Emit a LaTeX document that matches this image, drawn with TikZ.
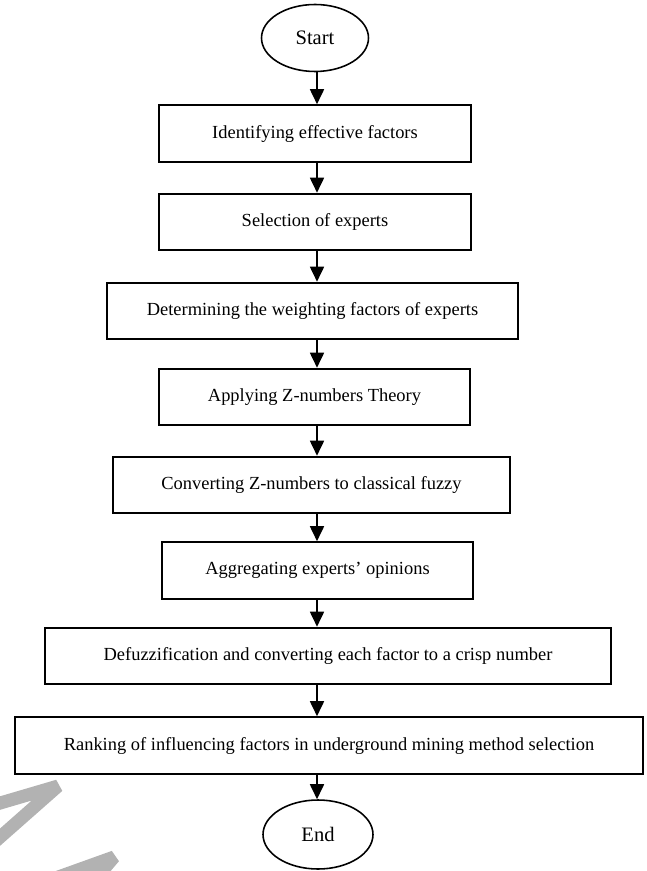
\documentclass[tikz,border=0pt]{standalone}
\usepackage{fontspec}
\setmainfont{Liberation Serif}
\usetikzlibrary{shapes.geometric, arrows.meta}

\begin{document}
\begin{tikzpicture}[
      x=0.02cm, y=-0.02cm,
      terminal/.style={ellipse, draw, line width=0.9pt, inner sep=0pt, font=\fontsize{11.7}{14}\selectfont},
      process/.style={rectangle, draw, line width=1.2pt, minimum height=1.13cm, inner sep=0pt, font=\fontsize{10.5}{12.6}\selectfont},
      arrow/.style={-{Triangle[length=0.3cm, width=0.28cm]}, line width=1pt},
      wmstroke/.style={draw=black!30, line width=0.26cm, line join=bevel}
    ]
    \useasboundingbox (0,0) rectangle (646,871);

    % Watermark
    \begin{scope}
      \clip (0,0) rectangle (646,871);
      \draw[wmstroke] (-10,806) -- (58,786) -- (-10,846);
      \draw[wmstroke] (36,885) -- (114,857) -- (86,890);
    \end{scope}

    % Terminals
    \node[terminal, minimum width=2.14cm, minimum height=1.34cm] (start) at (315,38) {Start};
    \node[terminal, minimum width=2.2cm, minimum height=1.38cm] (end) at (318,834.5) {End};

    % Steps
    \node[process, minimum width=6.24cm] (ident) at (315,133.5) {Identifying effective factors};
    \node[process, minimum width=6.24cm] (select) at (315,222) {Selection of experts};
    \node[process, minimum width=8.22cm] (weight) at (312.5,311) {Determining the weighting factors of experts};
    \node[process, minimum width=6.22cm] (apply) at (314.5,397) {Applying Z-numbers Theory};
    \node[process, minimum width=7.94cm] (convert) at (311.5,485) {Converting Z-numbers to classical fuzzy};
    \node[process, minimum width=6.22cm] (aggr) at (317.5,570.5) {Aggregating experts' opinions};
    \node[process, minimum width=11.32cm] (defuzz) at (328,656) {Defuzzification and converting each factor to a crisp number};
    \node[process, minimum width=12.56cm] (rank) at (329,745.5) {Ranking of influencing factors in underground mining method selection};

    % Flow
    \coordinate (axis) at (317,0);
    \draw[arrow] (start.south -| axis) -- (ident.north -| axis);
    \draw[arrow] (ident.south -| axis) -- (select.north -| axis);
    \draw[arrow] (select.south -| axis) -- (weight.north -| axis);
    \draw[arrow] (weight.south -| axis) -- (apply.north -| axis);
    \draw[arrow] (apply.south -| axis) -- (convert.north -| axis);
    \draw[arrow] (convert.south -| axis) -- (aggr.north -| axis);
    \draw[arrow] (aggr.south -| axis) -- (defuzz.north -| axis);
    \draw[arrow] (defuzz.south -| axis) -- (rank.north -| axis);
    \draw[arrow] (rank.south -| axis) -- (end.north -| axis);
  \end{tikzpicture}
\end{document}
